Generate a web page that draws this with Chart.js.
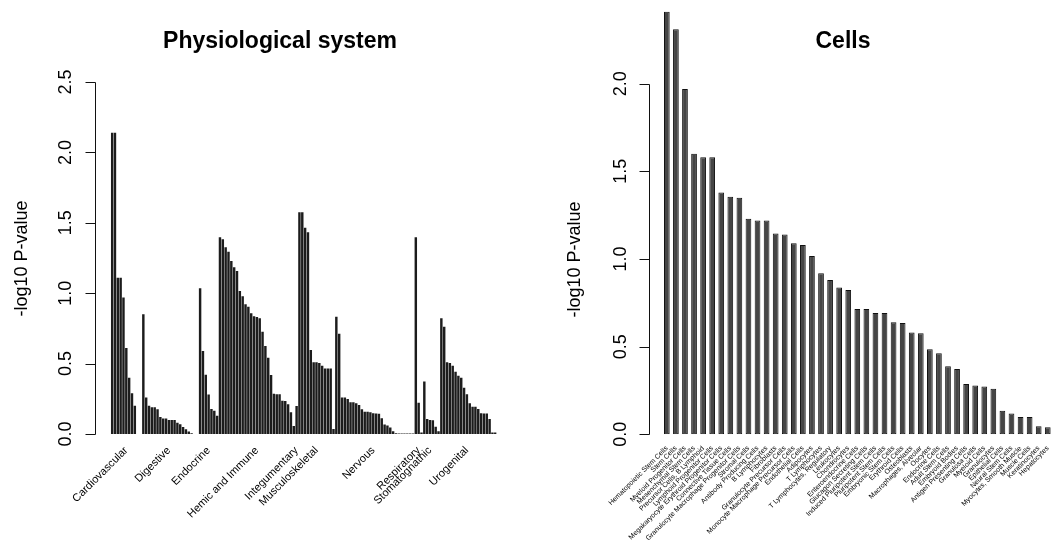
<!DOCTYPE html>
<html>
<head>
<meta charset="utf-8">
<script src="https://cdn.jsdelivr.net/npm/chart.js@4.4.1/dist/chart.umd.min.js"></script>
<style>
  html, body { margin: 0; padding: 0; background: #fff; }
  #wrap { position: relative; width: 1056px; height: 552px; }
  canvas { position: absolute; top: 0; }
  #systemChart { left: 0; }
  #cellChart { left: 528px; }
</style>
</head>
<body>
<div id="wrap">
  <canvas id="systemChart" width="528" height="552"></canvas>
  <canvas id="cellChart" width="528" height="552"></canvas>
</div>
<script>
// -log10 P-values of the terms in each physiological system, sorted high to low
const cardiovascular = [2.14, 2.14, 1.11, 1.11, 0.97, 0.61, 0.40, 0.29, 0.20, 0, 0]
const digestive = [0.85, 0.26, 0.20, 0.19, 0.19, 0.175, 0.12, 0.11, 0.11, 0.10, 0.10, 0.10, 0.08, 0.07, 0.05, 0.033, 0.017, 0.005, 0, 0]
const endocrine = [1.035, 0.59, 0.42, 0.28, 0.178, 0.166, 0.13]
const hemicImmune = [1.397, 1.383, 1.326, 1.295, 1.229, 1.184, 1.158, 1.016, 0.978, 0.921, 0.904, 0.857, 0.836, 0.831, 0.822, 0.727, 0.625, 0.542, 0.419, 0.286, 0.282, 0.282, 0.237, 0.235, 0.211, 0.154, 0.057]
const integumentary = [0.199]
const musculoskeletal = [1.575, 1.575, 1.465, 1.432, 0.597, 0.509, 0.509, 0.505, 0.485, 0.466, 0.466, 0.466, 0.035]
const nervous = [0.833, 0.712, 0.26, 0.26, 0.248, 0.225, 0.225, 0.218, 0.206, 0.175, 0.158, 0.158, 0.155, 0.147, 0.145, 0.143, 0.111, 0.068, 0.06, 0.047, 0.02, 0.005, 0.004, 0.004, 0.004, 0.004, 0.004, 0.004]
const respiratory = [1.397, 0.222, 0.01]
const stomatognathic = [0.372, 0.106, 0.10, 0.097, 0.052, 0.02]
const urogenital = [0.822, 0.762, 0.509, 0.505, 0.485, 0.443, 0.414, 0.40, 0.329, 0.282, 0.218, 0.194, 0.194, 0.178, 0.147, 0.145, 0.145, 0.106, 0.01, 0.01]

const systemNames = ['Cardiovascular', 'Digestive', 'Endocrine', 'Hemic and Immune', 'Integumentary',
  'Musculoskeletal', 'Nervous', 'Respiratory', 'Stomatognathic', 'Urogenital']
const systemGroups = [cardiovascular, digestive, endocrine, hemicImmune, integumentary,
  musculoskeletal, nervous, respiratory, stomatognathic, urogenital]
const systemTicks = [0, 0.5, 1, 1.5, 2, 2.5]

// cell types, sorted high to low
const cellNames = ['Hematopoietic Stem Cells', 'Stem Cells', 'Myeloid Progenitor Cells', 'Mesenchymal Stem Cells',
  'Precursor Cells, B Lymphoid', 'Lymphoid Progenitor Cells', 'Megakaryocyte Erythroid Progenitor Cells',
  'Connective Tissue Cells', 'Granulocyte Macrophage Progenitor Cells', 'Stromal Cells', 'Antibody Producing Cells',
  'B Lymphocytes', 'Fibroblasts', 'Granulocyte Precursor Cells', 'Monocyte Macrophage Precursor Cells',
  'Endothelial Cells', 'Adipocytes', 'T Lymphocytes', 'T Lymphocytes, Regulatory', 'Leukocytes', 'Chondrocytes',
  'Enteroendocrine Cells', 'Glucagon Secreting Cells', 'Induced Pluripotent Stem Cells', 'Pluripotent Stem Cells',
  'Embryonic Stem Cells', 'Erythroid Cells', 'Osteoblasts', 'Macrophages, Alveolar', 'Oocytes', 'Endocrine Cells',
  'Adult Stem Cells', 'Embryoid Bodies', 'Antigen Presenting Cells', 'Granulosa Cells', 'Myeloid Cells',
  'Granulocytes', 'Epithelial Cells', 'Neural Stem Cells', 'Myocytes, Smooth Muscle', 'Muscle Cells',
  'Keratinocytes', 'Hepatocytes']
const cellValues = [2.41, 2.31, 1.97, 1.60, 1.58, 1.58, 1.38, 1.355, 1.35, 1.23, 1.22, 1.22, 1.145, 1.14,
  1.09, 1.08, 1.017, 0.918, 0.88, 0.838, 0.823, 0.715, 0.715, 0.692, 0.692, 0.639, 0.635, 0.58, 0.576,
  0.485, 0.462, 0.388, 0.372, 0.287, 0.279, 0.272, 0.26, 0.135, 0.118, 0.099, 0.099, 0.046, 0.040]
const cellTicks = [0, 0.5, 1, 1.5, 2]

const FONT = '"Liberation Sans", Arial, Helvetica, sans-serif'

// one long run of bars, each system named under its middle bar
const systemValues = systemGroups.flat()
const systemLabels = systemGroups.flatMap((g, k) =>
  g.map((_, i) => i === Math.floor((g.length - 1) / 2) ? systemNames[k] : ''))

// base-graphics style frame: y axis only over the tick range, upright labels, title on top
const baseAxis = {
  id: 'baseAxis',
  afterDraw(chart, args, opts) {
    const ctx = chart.ctx
    const y = chart.scales.y
    const top = Math.round(y.getPixelForValue(opts.ticks[opts.ticks.length - 1])) + 0.5
    const bottom = Math.round(y.getPixelForValue(0)) + 0.5
    const ax = Math.round(opts.axisX) + 0.5
    ctx.save()
    ctx.strokeStyle = '#111'
    ctx.lineWidth = 1
    ctx.beginPath()
    ctx.moveTo(ax, top)
    ctx.lineTo(ax, bottom)
    opts.ticks.forEach(v => {
      const py = Math.round(y.getPixelForValue(v)) + 0.5
      ctx.moveTo(ax, py)
      ctx.lineTo(ax - 10, py)
    })
    ctx.stroke()

    ctx.fillStyle = '#000'
    ctx.textAlign = 'center'
    ctx.textBaseline = 'middle'
    ctx.font = '18px ' + FONT
    opts.ticks.forEach(v => {
      ctx.save()
      ctx.translate(opts.labelX, y.getPixelForValue(v))
      ctx.rotate(-Math.PI / 2)
      ctx.fillText(v.toFixed(1), 0, 0)
      ctx.restore()
    })

    ctx.save()
    ctx.translate(opts.titleX, (top + bottom) / 2)
    ctx.rotate(-Math.PI / 2)
    ctx.fillText('-log10 P-value', 0, 0)
    ctx.restore()

    ctx.font = 'bold 23px ' + FONT
    ctx.fillText(opts.main, opts.mainX, 42)
    ctx.restore()
  }
}

function makeChart(el, cfg) {
  return new Chart(el, {
    type: 'bar',
    data: {
      labels: cfg.labels,
      datasets: [{
        data: cfg.values,
        backgroundColor: cfg.fill,
        borderColor: cfg.border,
        borderWidth: cfg.borderWidth,
        borderSkipped: false,
        barPercentage: cfg.barPercentage,
        categoryPercentage: 1
      }]
    },
    options: {
      responsive: false,
      animation: false,
      devicePixelRatio: 1,
      layout: { padding: cfg.padding },
      plugins: {
        legend: { display: false },
        tooltip: { enabled: false },
        baseAxis: cfg.axis
      },
      scales: {
        x: {
          grid: { display: false },
          border: { display: false },
          ticks: {
            autoSkip: false,
            minRotation: 45,
            maxRotation: 45,
            padding: 2,
            color: '#000',
            font: { family: FONT, size: cfg.labelSize }
          },
          afterFit: (scale) => { scale.height = 110 }
        },
        y: { display: false, min: 0, max: cfg.yMax }
      }
    },
    plugins: [baseAxis]
  })
}

makeChart(document.getElementById('systemChart'), {
  labels: systemLabels,
  values: systemValues,
  fill: '#1c1c1c',
  border: '#1c1c1c',
  borderWidth: 0,
  barPercentage: 0.86,
  labelSize: 11,
  yMax: 2.5,
  padding: { left: 110.7, right: 31.3, top: 82, bottom: 8 },
  axis: { ticks: systemTicks, axisX: 95, labelX: 66, titleX: 22, main: 'Physiological system', mainX: 280 }
})

makeChart(document.getElementById('cellChart'), {
  labels: cellNames,
  values: cellValues,
  fill: '#454545',
  border: '#111',
  borderWidth: 1,
  barPercentage: 0.63,
  labelSize: 7,
  yMax: 2.45,
  padding: { left: 134.3, right: 3.7, top: 4.8, bottom: 7.7 },
  axis: { ticks: cellTicks, axisX: 121.3, labelX: 93, titleX: 47, main: 'Cells', mainX: 315 }
})
</script>
</body>
</html>
